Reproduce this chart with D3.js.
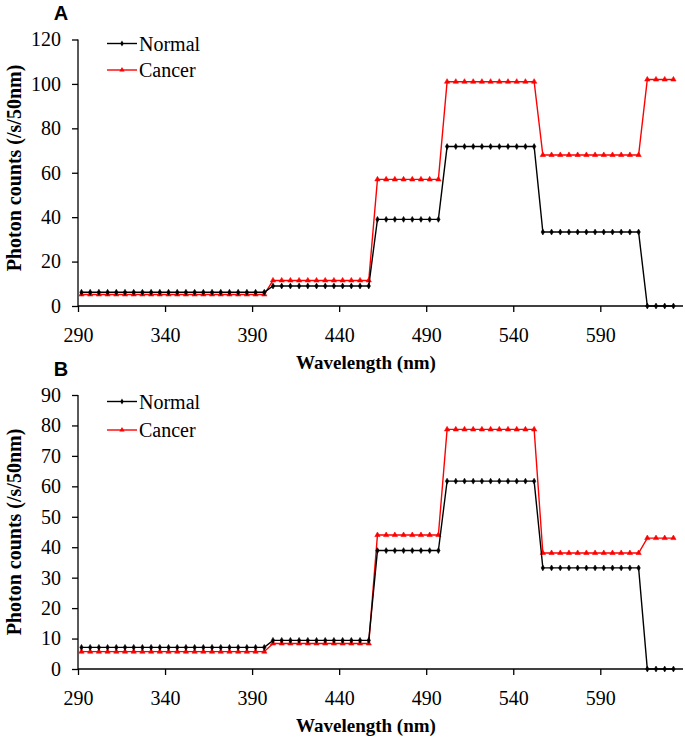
<!DOCTYPE html>
<html>
<head>
<meta charset="utf-8">
<script src="https://cdn.jsdelivr.net/npm/d3@7/dist/d3.min.js"></script>
<style>
  html, body { margin: 0; padding: 0; background: #fff; }
  svg { display: block; }
</style>
</head>
<body>
<svg id="chart" width="685" height="740"></svg>
<script>
// ---------- DATA ----------
const wavelengths = [
  292,297,302,307,312,317,322,327,332,337,342,347,352,357,362,367,372,377,382,387,392,397,
  402,407,412,417,422,427,432,437,442,447,452,457,
  462,467,472,477,482,487,492,497,
  502,507,512,517,522,527,532,537,542,547,552,
  557,562,567,572,577,582,587,592,597,602,607,612,
  617,622,627,632
];
const normalA = [
  6.2,6.2,6.2,6.2,6.2,6.2,6.2,6.2,6.2,6.2,6.2,6.2,6.2,6.2,6.2,6.2,6.2,6.2,6.2,6.2,6.2,6.2,
  9,9,9,9,9,9,9,9,9,9,9,9,
  39,39,39,39,39,39,39,39,
  71.8,71.8,71.8,71.8,71.8,71.8,71.8,71.8,71.8,71.8,71.8,
  33.3,33.3,33.3,33.3,33.3,33.3,33.3,33.3,33.3,33.3,33.3,33.3,
  0,0,0,0
];
const cancerA = [
  5.2,5.2,5.2,5.2,5.2,5.2,5.2,5.2,5.2,5.2,5.2,5.2,5.2,5.2,5.2,5.2,5.2,5.2,5.2,5.2,5.2,5.2,
  11.5,11.5,11.5,11.5,11.5,11.5,11.5,11.5,11.5,11.5,11.5,11.5,
  57,57,57,57,57,57,57,57,
  101,101,101,101,101,101,101,101,101,101,101,
  68,68,68,68,68,68,68,68,68,68,68,68,
  102,102,102,102
];
const normalB = [
  7.1,7.1,7.1,7.1,7.1,7.1,7.1,7.1,7.1,7.1,7.1,7.1,7.1,7.1,7.1,7.1,7.1,7.1,7.1,7.1,7.1,7.1,
  9.4,9.4,9.4,9.4,9.4,9.4,9.4,9.4,9.4,9.4,9.4,9.4,
  38.9,38.9,38.9,38.9,38.9,38.9,38.9,38.9,
  61.7,61.7,61.7,61.7,61.7,61.7,61.7,61.7,61.7,61.7,61.7,
  33.2,33.2,33.2,33.2,33.2,33.2,33.2,33.2,33.2,33.2,33.2,33.2,
  0,0,0,0
];
const cancerB = [
  5.7,5.7,5.7,5.7,5.7,5.7,5.7,5.7,5.7,5.7,5.7,5.7,5.7,5.7,5.7,5.7,5.7,5.7,5.7,5.7,5.7,5.7,
  8.4,8.4,8.4,8.4,8.4,8.4,8.4,8.4,8.4,8.4,8.4,8.4,
  44,44,44,44,44,44,44,44,
  78.7,78.7,78.7,78.7,78.7,78.7,78.7,78.7,78.7,78.7,78.7,
  38.1,38.1,38.1,38.1,38.1,38.1,38.1,38.1,38.1,38.1,38.1,38.1,
  43,43,43,43
];
const xTicks = [290, 340, 390, 440, 490, 540, 590];
const yTicksA = [0, 20, 40, 60, 80, 100, 120];
const yTicksB = [0, 10, 20, 30, 40, 50, 60, 70, 80, 90];
const seriesNames = ["Normal", "Cancer"];
const panelLabels = ["A", "B"];
const xTitle = "Wavelength (nm)";
const yTitle = "Photon counts (/s/50nm)";

// ---------- DRAW ----------
const svg = d3.select("#chart");
const serif = "'Liberation Serif', 'Times New Roman', serif";
const colors = { Normal: "#000000", Cancer: "#ff0000" };

function panel(opts) {
  const g = svg.append("g");
  const x = d3.scaleLinear().domain([290, 637.5]).range([78, 683]);
  const y = d3.scaleLinear().domain([0, opts.yMax]).range([opts.y0, opts.yTop]);

  // panel letter
  g.append("text").attr("x", 61).attr("y", opts.letterY)
    .attr("text-anchor", "middle")
    .style("font-family", "'Liberation Sans', Arial, sans-serif")
    .style("font-weight", "bold").style("font-size", "20px")
    .text(opts.letter);

  // axes
  const xAxis = d3.axisBottom(x).tickValues(xTicks).tickSize(6).tickSizeOuter(0).tickPadding(16);
  const gx = g.append("g").attr("transform", `translate(0,${opts.y0})`).call(xAxis);
  const yAxis = d3.axisLeft(y).tickValues(opts.yTicks).tickSize(6).tickSizeOuter(0).tickPadding(11);
  const gy = g.append("g").attr("transform", `translate(78,0)`).call(yAxis);
  [gx, gy].forEach(a => {
    a.select(".domain").attr("stroke", "#000").attr("stroke-width", 1.3);
    a.selectAll(".tick line").attr("stroke", "#000").attr("stroke-width", 1.3);
    a.selectAll(".tick text").style("font-family", serif).style("font-size", "20px").attr("fill", "#000");
  });
  gy.select(".domain").attr("d", `M0,${opts.y0}V${opts.yTop}`);
  gx.select(".domain").attr("d", `M78,0H683`);

  // axis titles
  g.append("text")
    .attr("x", 366).attr("y", opts.y0 + 63)
    .attr("text-anchor", "middle")
    .style("font-family", serif).style("font-weight", "bold").style("font-size", "19px")
    .text(xTitle);
  g.append("text")
    .attr("transform", `translate(21,${opts.yTitleC}) rotate(-90)`)
    .attr("text-anchor", "middle")
    .style("font-family", serif).style("font-weight", "bold").style("font-size", "20px")
    .text(yTitle);

  const line = d3.line().x(d => x(d[0])).y(d => y(d[1]));
  const series = [
    { name: "Normal", vals: opts.normal, sym: d3.symbolDiamond, size: 10 },
    { name: "Cancer", vals: opts.cancer, sym: d3.symbolTriangle, size: 12 }
  ];
  series.slice().reverse().forEach(s => {
    const pts = wavelengths.map((w, i) => [w, s.vals[i]]);
    g.append("path").datum(pts)
      .attr("fill", "none").attr("stroke", colors[s.name]).attr("stroke-width", 1.4)
      .attr("d", line);
    g.selectAll(null).data(pts).enter().append("path")
      .attr("transform", d => `translate(${x(d[0])},${y(d[1])})`)
      .attr("d", d3.symbol().type(s.sym).size(s.size))
      .attr("fill", colors[s.name]).attr("stroke", colors[s.name]).attr("stroke-width", 0.6);
  });

  // legend
  series.forEach((s, i) => {
    const ly = opts.legendY[i];
    g.append("line").attr("x1", 107).attr("x2", 137).attr("y1", ly).attr("y2", ly)
      .attr("stroke", colors[s.name]).attr("stroke-width", 1.4);
    g.append("path").attr("transform", `translate(122,${ly})`)
      .attr("d", d3.symbol().type(s.sym).size(s.size))
      .attr("fill", colors[s.name]);
    g.append("text").attr("x", 139).attr("y", ly + 7)
      .style("font-family", serif).style("font-size", "20px").attr("fill", "#000")
      .text(seriesNames[i]);
  });
}

panel({ letter: panelLabels[0], letterY: 20, y0: 306, yTop: 39.5, yMax: 120, yTicks: yTicksA,
        normal: normalA, cancer: cancerA, legendY: [43.5, 70], yTitleC: 168 });
panel({ letter: panelLabels[1], letterY: 376, y0: 669, yTop: 395, yMax: 90, yTicks: yTicksB,
        normal: normalB, cancer: cancerB, legendY: [401.5, 430], yTitleC: 532 });
</script>
</body>
</html>
